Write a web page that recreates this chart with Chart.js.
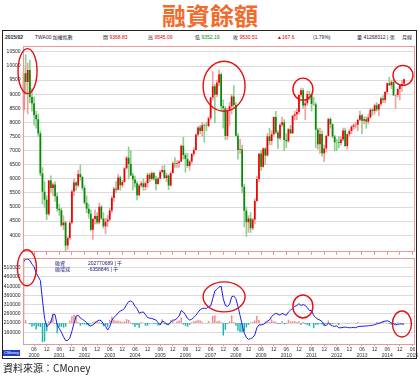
<!DOCTYPE html>
<html>
<head>
<meta charset="utf-8">
<script src="https://cdn.jsdelivr.net/npm/chart.js@4.4.1/dist/chart.umd.min.js"></script>
<style>
  body { margin: 0; width: 420px; height: 376px; background: #fff; position: relative; overflow: hidden;
         font-family: "Liberation Sans", "Noto Sans CJK TC", sans-serif; }
  .abs { position: absolute; white-space: nowrap; }
  #title { left: 0; top: 0; width: 420px; text-align: center; font: bold 24px/30px "Noto Sans CJK TC", sans-serif; color: #f26b2c; }
  #frame { left: 2px; top: 30px; width: 413px; height: 327px; border: 1px solid #222; }
  .hd { top: 34px; font-size: 5px; line-height: 7px; color: #223; }
  .red { color: #e00000; }
  .grn { color: #009000; }
  .lg { font-size: 5px; line-height: 6px; color: #1a1a70; }
  #cm { left: 3px; top: 350px; width: 17px; height: 6px; background: #1f3fc8; color: #fff; font-size: 4px; line-height: 6px; text-align: center; }
  #src { left: 3px; top: 361px; font: 10px/13px "Noto Sans CJK TC", sans-serif; color: #222; }
</style>
</head>
<body>
<div id="title" class="abs">融資餘額</div>
<div id="frame" class="abs"></div>

<div class="abs hd" style="left:5px;font-weight:bold">2015/02</div>
<div class="abs hd" style="left:35px">TWA00 加權指數</div>
<div class="abs hd" style="left:103px">開 <span class="red">9368.83</span></div>
<div class="abs hd" style="left:148px">高 <span class="red">9545.09</span></div>
<div class="abs hd" style="left:195px">低 <span class="grn">9352.19</span></div>
<div class="abs hd" style="left:233px">收 <span class="red">9530.51</span></div>
<div class="abs hd red" style="left:277px">▲167.6</div>
<div class="abs hd" style="left:313px">(1.79%)</div>
<div class="abs hd" style="left:357px">量 41268312 | 張</div>
<div class="abs hd" style="left:402px">月線</div>

<div class="abs" style="left:0;top:41px;width:420px;height:216px"><canvas id="top" width="420" height="216"></canvas></div>
<div class="abs" style="left:0;top:241px;width:420px;height:119px"><canvas id="bot" width="420" height="119"></canvas></div>

<div class="abs lg" style="left:55px;top:260px">融資</div>
<div class="abs lg" style="left:88px;top:260px">202770689 | 千</div>
<div class="abs lg" style="left:55px;top:266px">融增減</div>
<div class="abs lg" style="left:88px;top:266px">-6358846 | 千</div>

<div id="cm" class="abs">CMoney</div>
<div id="src" class="abs">資料來源：CMoney</div>

<script>
// months 2000/01 .. 2015/06 (data ends 2015/02)
const years = [2000, 2001, 2002, 2003, 2004, 2005, 2006, 2007, 2008, 2009, 2010, 2011, 2012, 2013, 2014, 2015];
const months = [];
years.forEach(y => {
  for (let m = 1; m <= 12; m++) {
    if (y === 2015 && m > 6) break;
    months.push(y + "/" + (m < 10 ? "0" + m : m));
  }
});

// TWA00 monthly candles
const opens = [
  8449, 9745, 9435, 9855, 8900, 8680, 8265, 8114, 7616, 6185, 5544, 5256,
  4739, 5936, 5674, 5797, 5381, 4935, 4883, 4352, 4448, 3636, 3903, 4441,
  5551, 5872, 5765, 6167, 6065, 5676, 5153, 4940, 4764, 4191, 4579, 4680,
  4452, 5013, 4596, 4321, 4480, 4555, 4872, 5318, 5650, 5611, 6045, 5771,
  5890, 6375, 6750, 6522, 6118, 5978, 5839, 5420, 5765, 5845, 5706, 5844,
  6140, 5994, 6207, 6006, 5819, 6011, 6242, 6312, 6033, 6119, 5764, 6204,
  6548, 6532, 6561, 6614, 7171, 6846, 6704, 6451, 6612, 6883, 7021, 7567,
  7823, 7699, 7902, 7884, 7875, 8145, 8883, 9287, 8982, 9411, 9711, 8586,
  8506, 7521, 8413, 8572, 8919, 8619, 7524, 7024, 7046, 5719, 4870, 4460,
  4591, 4248, 4557, 5210, 5993, 6890, 6432, 7077, 6826, 7509, 7340, 7582,
  8188, 7640, 7436, 7920, 8004, 7374, 7329, 7760, 7616, 8238, 8287, 8372,
  8973, 9145, 8600, 8683, 9008, 8989, 8653, 8644, 7741, 7225, 7588, 6904,
  7072, 7517, 8121, 7933, 7501, 7301, 7296, 7270, 7397, 7715, 7166, 7580,
  7700, 7850, 7897, 7919, 8093, 8254, 8062, 8108, 8022, 8173, 8450, 8407,
  8612, 8462, 8640, 8849, 8792, 9076, 9393, 9315, 9436, 8966, 8975, 9187,
  9307, 9369
];
const highs = [
  9950, 10393, 10100, 10200, 9200, 8900, 8400, 8300, 7700, 6400, 5900, 5400,
  5950, 6104, 5850, 5900, 5500, 5100, 4950, 4700, 4500, 3950, 4500, 5600,
  6000, 5900, 6300, 6484, 6100, 5750, 5400, 5100, 4900, 4600, 4900, 4800,
  5141, 5050, 4800, 4600, 4700, 4950, 5400, 5700, 5900, 6150, 6100, 5950,
  6400, 6800, 7135, 7000, 6200, 6100, 5900, 5800, 5900, 6000, 5900, 6200,
  6200, 6250, 6230, 6100, 6050, 6300, 6450, 6480, 6200, 6150, 6250, 6600,
  6750, 6650, 6650, 7200, 7474, 6900, 6900, 6650, 6900, 7100, 7600, 7850,
  7900, 8000, 7950, 8000, 8200, 8900, 9807, 9350, 9500, 9859, 9750, 8800,
  8550, 8500, 8700, 9000, 9309, 8700, 7600, 7400, 7200, 5800, 5000, 4700,
  4800, 4600, 5300, 6100, 6900, 7000, 7100, 7100, 7600, 7800, 7700, 8200,
  8395, 7700, 7950, 8190, 8100, 7600, 7800, 7900, 8250, 8400, 8500, 8990,
  9220, 9200, 8800, 9100, 9100, 9000, 8900, 8700, 7800, 7800, 7700, 7200,
  7550, 8150, 8170, 7950, 7550, 7400, 7500, 7500, 7800, 7800, 7600, 7750,
  7900, 7950, 8000, 8100, 8400, 8300, 8200, 8200, 8300, 8500, 8500, 8650,
  8700, 8650, 8900, 8950, 9100, 9400, 9600, 9500, 9500, 9000, 9200, 9350,
  9500, 9545
];
const lows = [
  8350, 9000, 8300, 8700, 8400, 7900, 7800, 7500, 6100, 5100, 5000, 4555,
  4700, 5500, 5400, 5200, 4850, 4700, 4300, 4200, 3411, 3500, 3850, 4400,
  5400, 5600, 5700, 5950, 5600, 5100, 4800, 4600, 4150, 3850, 4400, 4400,
  4400, 4550, 4250, 4044, 4300, 4500, 4800, 5200, 5500, 5600, 5600, 5700,
  5880, 6350, 6000, 6100, 5600, 5700, 5255, 5400, 5700, 5600, 5600, 5700,
  5900, 5950, 5950, 5600, 5800, 6000, 6200, 6000, 5900, 5618, 5750, 6200,
  6400, 6400, 6400, 6600, 6700, 6232, 6400, 6300, 6550, 6800, 7000, 7500,
  7600, 7500, 7300, 7700, 7850, 8100, 8800, 7987, 8900, 9300, 8400, 7800,
  7384, 7400, 7900, 8300, 8500, 7500, 6700, 6900, 5500, 4300, 3955, 4100,
  4100, 4200, 4400, 5200, 5900, 6300, 6400, 6500, 6800, 7200, 7200, 7500,
  7600, 7080, 7400, 7850, 7000, 7100, 7300, 7600, 7600, 8100, 8100, 8300,
  8900, 8500, 8100, 8600, 8800, 8400, 8600, 7100, 7050, 6900, 6800, 6609,
  6950, 7500, 7800, 7450, 7000, 7000, 7100, 7200, 7350, 7150, 7050, 7500,
  7600, 7750, 7800, 7700, 8050, 7600, 7950, 7800, 7950, 8150, 8250, 8300,
  8400, 8230, 8600, 8700, 8700, 9000, 9300, 9200, 8950, 8500, 8900, 8800,
  9100, 9352
];
const closes = [
  9745, 9435, 9855, 8900, 8680, 8265, 8114, 7616, 6185, 5544, 5256, 4739,
  5936, 5674, 5797, 5381, 4935, 4883, 4352, 4448, 3636, 3903, 4441, 5551,
  5872, 5765, 6167, 6065, 5676, 5153, 4940, 4764, 4191, 4579, 4680, 4452,
  5013, 4596, 4321, 4480, 4555, 4872, 5318, 5650, 5611, 6045, 5771, 5890,
  6375, 6750, 6522, 6118, 5978, 5839, 5420, 5765, 5845, 5706, 5844, 6140,
  5994, 6207, 6006, 5819, 6011, 6242, 6312, 6033, 6119, 5764, 6204, 6548,
  6532, 6561, 6614, 7171, 6846, 6704, 6451, 6612, 6883, 7021, 7567, 7823,
  7699, 7902, 7884, 7875, 8145, 8883, 9287, 8982, 9411, 9711, 8586, 8506,
  7521, 8413, 8572, 8919, 8619, 7524, 7024, 7046, 5719, 4870, 4460, 4591,
  4248, 4557, 5210, 5993, 6890, 6432, 7077, 6826, 7509, 7340, 7582, 8188,
  7640, 7436, 7920, 8004, 7374, 7329, 7760, 7616, 8238, 8287, 8372, 8973,
  9145, 8600, 8683, 9008, 8989, 8653, 8644, 7741, 7225, 7588, 6904, 7072,
  7517, 8121, 7933, 7501, 7301, 7296, 7270, 7397, 7715, 7166, 7580, 7700,
  7850, 7897, 7919, 8093, 8254, 8062, 8108, 8022, 8173, 8450, 8407, 8612,
  8462, 8640, 8849, 8792, 9076, 9393, 9315, 9436, 8966, 8975, 9187, 9307,
  9361, 9531
];

// 融資餘額 (百萬) and monthly 融增減
const balance = [
  542000, 557000, 557000, 550000, 530000, 515000, 480000, 462000, 440000, 335000, 235000, 190000,
  200000, 215000, 258000, 255000, 200000, 180000, 160000, 135000, 115000, 115000, 128000, 165000,
  210000, 247000, 252000, 237000, 230000, 222000, 212000, 198000, 194000, 200000, 210000, 220000,
  226000, 222000, 205000, 192000, 172000, 190000, 224000, 240000, 252000, 265000, 275000, 280000,
  288000, 310000, 326000, 330000, 322000, 300000, 289000, 263000, 268000, 270000, 255000, 240000,
  236000, 235000, 230000, 226000, 212000, 200000, 220000, 215000, 205000, 200000, 215000, 226000,
  226000, 235000, 248000, 278000, 270000, 255000, 235000, 226000, 230000, 240000, 252000, 268000,
  282000, 289000, 290000, 289000, 300000, 302000, 342000, 384000, 393000, 405000, 410000, 342000,
  305000, 300000, 310000, 352000, 357000, 342000, 300000, 250000, 200000, 155000, 131000, 121000,
  125000, 131000, 145000, 184000, 200000, 200000, 202000, 210000, 220000, 226000, 245000, 255000,
  263000, 258000, 252000, 263000, 256000, 252000, 270000, 280000, 289000, 300000, 305000, 315000,
  305000, 310000, 305000, 294000, 278000, 278000, 250000, 240000, 230000, 226000, 218000, 200000,
  196000, 210000, 200000, 194000, 192000, 194000, 184000, 184000, 186000, 188000, 186000, 184000,
  185000, 186000, 184000, 190000, 192000, 192000, 193000, 194000, 195000, 196000, 198000, 200000,
  205000, 208000, 212000, 218000, 220000, 222000, 218000, 210000, 205000, 200000, 203000, 205000,
  205000, 203000
];
const change = [
  542000, 15000, 0, -7000, -20000, -15000, -35000, -18000, -22000, -105000, -100000, -45000,
  10000, 15000, 43000, -3000, -55000, -20000, -20000, -25000, -20000, 0, 13000, 37000,
  45000, 37000, 5000, -15000, -7000, -8000, -10000, -14000, -4000, 6000, 10000, 10000,
  6000, -4000, -17000, -13000, -20000, 18000, 34000, 16000, 12000, 13000, 10000, 5000,
  8000, 22000, 16000, 4000, -8000, -22000, -11000, -26000, 5000, 2000, -15000, -15000,
  -4000, -1000, -5000, -4000, -14000, -12000, 20000, -5000, -10000, -5000, 15000, 11000,
  0, 9000, 13000, 30000, -8000, -15000, -20000, -9000, 4000, 10000, 12000, 16000,
  14000, 7000, 1000, -1000, 11000, 2000, 40000, 42000, 9000, 12000, 5000, -68000,
  -37000, -5000, 10000, 42000, 5000, -15000, -42000, -50000, -50000, -45000, -24000, -10000,
  4000, 6000, 14000, 39000, 16000, 0, 2000, 8000, 10000, 6000, 19000, 10000,
  8000, -5000, -6000, 11000, -7000, -4000, 18000, 10000, 9000, 11000, 5000, 10000,
  -10000, 5000, -5000, -11000, -16000, 0, -28000, -10000, -10000, -4000, -8000, -18000,
  -4000, 14000, -10000, -6000, -2000, 2000, -10000, 0, 2000, 2000, -2000, -2000,
  1000, 1000, -2000, 6000, 2000, 0, 1000, 1000, 1000, 1000, 2000, 2000,
  5000, 3000, 4000, 6000, 2000, 2000, -4000, -8000, -5000, -5000, 3000, 2000,
  0, -2000
];

const priceTicks = [10500, 10000, 9500, 9000, 8500, 8000, 7500, 7000, 6500, 6000, 5500, 5000, 4500, 4000];
const marginTicks = [510000, 460000, 410000, 360000, 310000, 260000, 210000, 160000];

// red rings drawn on the picture: [month index, value, rx, ry]
const topRings = [[1.9, 9820, 9.5, 22.5], [95.4, 9285, 21, 25], [132.9, 9180, 10, 11], [180.5, 9670, 10, 10]];
const botRings = [[1.6, 510000, 9.5, 18], [95.4, 352000, 21, 15], [132.9, 300000, 10, 11.5], [180, 205000, 9.5, 13]];

const tickFont = { family: "'Liberation Sans Narrow', 'Liberation Sans', sans-serif", size: 5 };
const frameRed = "#e49a9a";

function halfYear(i) {
  const m = i % 12;
  return m === 5 || m === 11;
}

const framePlugin = {
  id: "frame",
  afterDraw(chart) {
    const a = chart.chartArea;
    const ctx = chart.ctx;
    ctx.save();
    ctx.strokeStyle = frameRed;
    ctx.lineWidth = 1;
    ctx.strokeRect(Math.round(a.left) + 0.5, Math.round(a.top) + 0.5, Math.round(a.right - a.left), Math.round(a.bottom - a.top));
    ctx.restore();
  }
};

function ringsPlugin(list, yId) {
  return {
    id: "rings",
    afterDraw(chart) {
      const ctx = chart.ctx;
      const sx = chart.scales.x;
      const sy = chart.scales[yId];
      ctx.save();
      ctx.strokeStyle = "#e41010";
      ctx.lineWidth = 1.4;
      list.forEach(r => {
        ctx.beginPath();
        ctx.ellipse(sx.getPixelForValue(r[0]), sy.getPixelForValue(r[1]), r[2], r[3], 0, 0, Math.PI * 2);
        ctx.stroke();
      });
      ctx.restore();
    }
  };
}

// upper panel: candles
new Chart(document.getElementById("top"), {
  type: "bar",
  data: {
    labels: months,
    datasets: [
      {
        data: lows.map((l, i) => [l, highs[i]]),
        backgroundColor: closes.map((c, i) => c >= opens[i] ? "#f4a0a0" : "#8fcf8f"),
        barThickness: 1,
        grouped: false,
        order: 2
      },
      {
        data: opens.map((o, i) => [o, closes[i]]),
        backgroundColor: closes.map((c, i) => c >= opens[i] ? "#ee0000" : "#068a06"),
        barPercentage: 0.8,
        categoryPercentage: 1,
        grouped: false,
        order: 1
      }
    ]
  },
  options: {
    responsive: false,
    animation: false,
    devicePixelRatio: 1,
    layout: { padding: { top: 1, right: 6.5, left: 0, bottom: 0 } },
    plugins: { legend: { display: false }, tooltip: { enabled: false } },
    scales: {
      x: {
        offset: true,
        ticks: { display: false, autoSkip: false },
        grid: {
          offset: false,
          drawOnChartArea: false,
          tickLength: 4,
          color: c => halfYear(c.index) ? frameRed : "rgba(0,0,0,0)"
        },
        border: { display: false },
        afterFit: s => { s.height = 6; }
      },
      y: {
        min: 3440,
        max: 10710,
        afterBuildTicks: s => { s.ticks = priceTicks.map(v => ({ value: v })); },
        afterFit: s => { s.width = 22.5; },
        ticks: { font: tickFont, color: "#222", padding: 2, callback: v => String(v) },
        grid: { color: "#dcdcdc", drawTicks: false },
        border: { display: false }
      }
    }
  },
  plugins: [framePlugin, ringsPlugin(topRings, "y")]
});

// lower panel: margin balance line + monthly change bars
new Chart(document.getElementById("bot"), {
  data: {
    labels: months,
    datasets: [
      {
        type: "line",
        data: balance,
        borderColor: "#1c1cf0",
        borderWidth: 1,
        pointRadius: 0,
        yAxisID: "y",
        order: 1
      },
      {
        type: "bar",
        data: change,
        backgroundColor: change.map(d => d >= 0 ? "#f08a8a" : "#22b4b4"),
        barPercentage: 0.7,
        categoryPercentage: 1,
        yAxisID: "y2",
        order: 2
      }
    ]
  },
  options: {
    responsive: false,
    animation: false,
    devicePixelRatio: 1,
    layout: { padding: { top: 17, right: 6.5, left: 0, bottom: 0 } },
    plugins: { legend: { display: false }, tooltip: { enabled: false } },
    scales: {
      x: {
        offset: true,
        ticks: {
          autoSkip: false,
          maxRotation: 0,
          padding: 1,
          font: tickFont,
          color: "#333",
          callback: (v, i) => {
            if (i % 12 === 5) return ["06", months[i].slice(0, 4)];
            if (i % 12 === 11) return "12";
            return "";
          }
        },
        grid: {
          offset: false,
          drawOnChartArea: false,
          tickLength: 2,
          color: c => halfYear(c.index) ? frameRed : "rgba(0,0,0,0)"
        },
        border: { display: false }
      },
      y: {
        min: 96000,
        max: 563000,
        afterBuildTicks: s => { s.ticks = marginTicks.map(v => ({ value: v })); },
        afterFit: s => { s.width = 22.5; },
        ticks: { font: tickFont, color: "#222", padding: 2, callback: v => String(v) },
        grid: { color: "#dcdcdc", drawTicks: false },
        border: { display: false }
      },
      y2: {
        display: false,
        min: 96000 - 210000,
        max: 563000 - 210000
      }
    }
  },
  plugins: [framePlugin, ringsPlugin(botRings, "y")]
});
</script>
</body>
</html>
